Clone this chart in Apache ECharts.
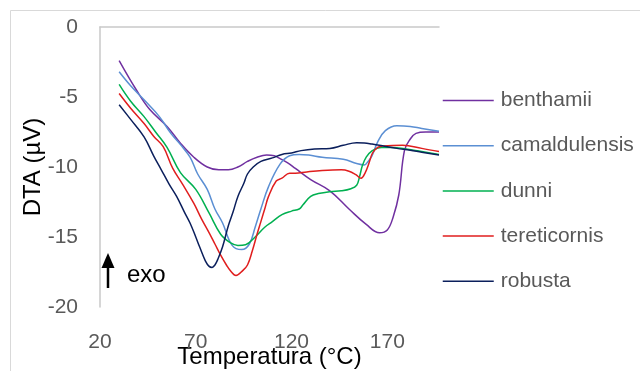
<!DOCTYPE html>
<html>
<head>
<meta charset="utf-8">
<script src="https://cdn.jsdelivr.net/npm/echarts@6/dist/echarts.min.js"></script>
<style>
  html, body { margin: 0; padding: 0; background: #fff; }
  #chart { width: 640px; height: 371px; }
</style>
</head>
<body>
<div id="chart"></div>
<script>
// DTA curves, temperature (°C) vs signal (µV)
const seriesNames = ['benthamii', 'camaldulensis', 'dunni', 'tereticornis', 'robusta'];
const seriesColors = ['#7030A0', '#5B8FD3', '#00B050', '#E01E1E', '#0B1F5C'];

const benthamiiT = [30, 39, 46, 55, 62, 69, 76, 82, 87, 92, 97, 102, 107, 111, 114, 118, 122, 130, 140, 150, 159, 166, 170, 173, 176, 179, 182, 185, 190, 197];
const benthamiiV = [-2.4, -4.5, -5.9, -7.1, -8.3, -9.3, -10.0, -10.2, -10.2, -10.0, -9.6, -9.3, -9.15, -9.2, -9.4, -9.7, -10.1, -10.9, -11.7, -13.0, -14.1, -14.7, -14.5, -13.6, -12.0, -8.8, -8.0, -7.6, -7.5, -7.5];

const camaldulensisT = [30, 36, 43, 51, 57, 62, 67, 71, 76, 80, 84, 89, 94, 98, 101, 104, 108, 114, 119, 124, 129, 136, 147, 154, 158, 160, 162, 165, 169, 175, 182, 188, 197];
const camaldulensisV = [-3.2, -4.2, -5.2, -6.4, -7.6, -8.4, -9.3, -10.5, -11.6, -13.0, -14.0, -15.6, -15.9, -15.5, -14.3, -13.0, -11.4, -9.8, -9.2, -9.1, -9.15, -9.3, -9.45, -9.75, -9.85, -9.6, -9.2, -8.2, -7.4, -7.05, -7.1, -7.25, -7.45];

const dunniT = [30, 36, 43, 49, 55, 62, 70, 77, 83, 88, 92, 96, 101, 106, 110, 115, 120, 124, 126, 130, 134, 140, 146, 151, 154, 155.5, 157, 159, 162, 167, 173, 179, 188, 197];
const dunniV = [-4.1, -5.3, -6.4, -7.5, -8.6, -10.4, -11.6, -13.3, -14.8, -15.4, -15.6, -15.55, -15.0, -14.3, -13.9, -13.4, -13.15, -13.0, -12.7, -12.1, -11.9, -11.76, -11.7, -11.55, -11.3, -10.7, -9.9, -9.3, -8.85, -8.6, -8.6, -8.7, -8.9, -9.1];

const tereticornisT = [30, 36, 43, 48, 53, 58, 63, 69, 73, 77, 80, 83, 86, 88, 91, 94.5, 97, 99.5, 102, 104, 106, 108, 112, 115, 119, 122, 128, 136, 146, 150, 153.6, 156.3, 158.5, 160.5, 162.3, 165, 168, 178, 188, 197];
const tereticornisV = [-4.75, -5.8, -6.9, -7.8, -8.55, -10.1, -11.2, -12.6, -13.7, -14.7, -15.5, -16.3, -17.0, -17.4, -17.75, -17.4, -17.0, -16.0, -14.8, -13.9, -13.0, -12.1, -11.0, -10.8, -10.45, -10.45, -10.35, -10.25, -10.2, -10.3, -10.55, -10.8, -10.4, -9.7, -9.0, -8.6, -8.5, -8.45, -8.67, -8.9];

const robustaT = [30, 36, 43, 48, 52, 56, 60, 64, 67, 70, 72, 75, 77, 78.5, 80, 81.5, 84, 87, 89.5, 92, 95, 97, 100, 104, 110, 115, 120, 125, 132, 140, 147, 154, 158, 162, 168, 175, 182, 188, 197];
const robustaV = [-5.55, -6.6, -7.85, -9.2, -10.2, -11.2, -12.1, -13.2, -14.0, -15.0, -15.7, -16.7, -17.1, -17.17, -17.0, -16.6, -15.7, -14.2, -13.2, -12.1, -11.2, -10.5, -10.0, -9.6, -9.35, -9.1, -9.0, -8.83, -8.71, -8.67, -8.45, -8.26, -8.28, -8.36, -8.5, -8.67, -8.8, -8.95, -9.15];

const xTicks = [20, 70, 120, 170];
const yTicks = [0, -5, -10, -15, -20];

const seriesData = [
    [benthamiiT, benthamiiV],
    [camaldulensisT, camaldulensisV],
    [dunniT, dunniV],
    [tereticornisT, tereticornisV],
    [robustaT, robustaV]
];

const chart = echarts.init(document.getElementById('chart'), null, { renderer: 'canvas' });
const font = 'Liberation Sans';

// 坐标点
const series = seriesNames.map((name, i) => {
    const [ts, vs] = seriesData[i];
    return {
        name: name,
        type: 'line',
        symbol: 'none',
        smooth: 0.4,
        color: seriesColors[i],
        lineStyle: { width: 1.5, color: seriesColors[i] },
        data: ts.map((t, k) => [t, vs[k]])
    };
});

const option = {
    animation: false,
    backgroundColor: '#fff',
    grid: { left: 100, right: 201, top: 27, bottom: 64, outerBoundsMode: 'none' },
    xAxis: {
        type: 'value',
        min: xTicks[0],
        max: 197,
        interval: 50,
        name: 'Temperatura (°C)',
        nameLocation: 'middle',
        nameGap: 38,
        nameMoveOverlap: false,
        nameTextStyle: { fontFamily: font, fontSize: 24, color: '#000' },
        axisLine: { show: true, lineStyle: { color: '#c9c9c9', width: 1.5 } },
        axisTick: { show: false },
        splitLine: { show: false },
        axisLabel: {
            margin: 25, fontFamily: font, fontSize: 21, color: '#595959',
            showMaxLabel: false
        }
    },
    yAxis: {
        type: 'value',
        min: yTicks[4],
        max: yTicks[0],
        interval: 5,
        name: 'DTA (µV)',
        nameLocation: 'middle',
        nameGap: 55,
        nameMoveOverlap: false,
        nameTextStyle: { fontFamily: font, fontSize: 24, color: '#000' },
        axisLine: { show: true, lineStyle: { color: '#c9c9c9', width: 1.5 } },
        axisTick: { show: false },
        splitLine: { show: false },
        axisLabel: { margin: 22, fontFamily: font, fontSize: 21, color: '#595959' }
    },
    legend: {
        orient: 'vertical',
        left: 442,
        top: 90,
        padding: 0,
        itemWidth: 51,
        itemHeight: 21,
        itemGap: 24.2,
        data: seriesNames,
        itemStyle: { opacity: 0 },
        lineStyle: { width: 1.5 },
        textStyle: { fontFamily: font, fontSize: 21, lineHeight: 21, color: '#595959', padding: [0, 0, 0, 2] }
    },
    graphic: [
        {
            type: 'rect',
            shape: { x: 10.5, y: 10.5, width: 700, height: 400 },
            style: { fill: 'none', stroke: '#d9d9d9', lineWidth: 1 },
            silent: true
        },
        {
            type: 'line',
            shape: { x1: 108, y1: 288, x2: 108, y2: 265 },
            style: { stroke: '#000', lineWidth: 2.5 }
        },
        {
            type: 'polygon',
            shape: { points: [[101.5, 268], [114.5, 268], [108, 253]] },
            style: { fill: '#000' }
        },
        {
            type: 'text',
            left: 127,
            top: 263,
            style: { text: 'exo', fontFamily: font, fontSize: 24, fill: '#000' }
        }
    ],
    series: series
};

chart.setOption(option);
</script>
</body>
</html>
